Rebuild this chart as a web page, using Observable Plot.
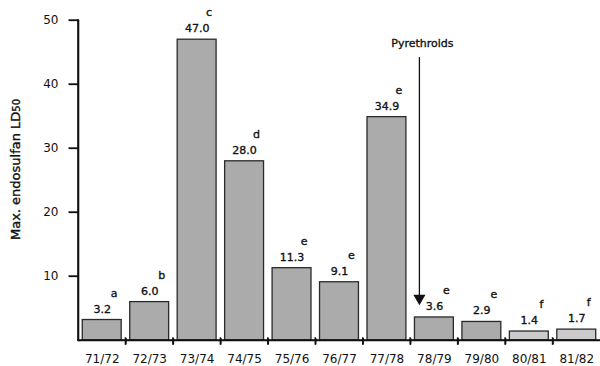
<!DOCTYPE html>
<html>
<head>
<meta charset="utf-8">
<script src="https://cdn.jsdelivr.net/npm/d3@7"></script>
<script src="https://cdn.jsdelivr.net/npm/@observablehq/plot@0.6"></script>
<style>
  html, body { margin: 0; padding: 0; background: #fff; }
  #chart svg { display: block; font-family: "DejaVu Sans", Arial, sans-serif; color: #111; }
</style>
</head>
<body>
<div id="chart"></div>
<script>
// Seasons and the maximum endosulfan LD50 recorded in each
const seasons = ["71/72", "72/73", "73/74", "74/75", "75/76", "76/77", "77/78", "78/79", "79/80", "80/81", "81/82"];
const ld50 = [3.2, 6.0, 47.0, 28.0, 11.3, 9.1, 34.9, 3.6, 2.9, 1.4, 1.7];
// Significance groups
const groups = ["a", "b", "c", "d", "e", "e", "e", "e", "e", "f", "f"];
// Seasons drawn with the lighter stipple fill
const lightSeasons = ["80/81", "81/82"];
const yTicks = [10, 20, 30, 40, 50];

// Annotation marking the introduction of pyrethroids
const pyrethroidSeason = "78/79";
const arrowTop = 44.2;
const arrowTip = 6.6;
const arrowLabelAt = 46.4;
const arrowLabel = "Pyrethroids";

const yLabel = "Max. endosulfan LD50";

const data = seasons.map((s, i) => ({season: s, value: ld50[i], group: groups[i]}));

const W = 600, H = 366;
const mL = 78, mR = 0, mT = 20, mB = 26;
const step = (W - mL - mR) / seasons.length;
const ink = "#111";
const textStroke = {stroke: ink, strokeWidth: 0.35};

const chart = Plot.plot({
  width: W,
  height: H,
  marginLeft: mL,
  marginRight: mR,
  marginTop: mT,
  marginBottom: mB,
  x: {domain: seasons, paddingInner: 0.18, paddingOuter: 0.09, round: false, label: null},
  y: {domain: [0, 50], label: null},
  marks: [
    Plot.barY(data, {
      x: "season", y: "value",
      fill: d => lightSeasons.includes(d.season) ? "#cbcbcb" : "#ababab",
      stroke: "#2a2a2a", strokeWidth: 1.3
    }),
    // value labels
    Plot.text(data, {
      x: "season", y: "value", text: d => d.value.toFixed(1),
      dy: -11, fontSize: 11, fill: ink, ...textStroke
    }),
    // group letters
    Plot.text(data, {
      x: "season", y: "value", text: "group",
      dy: -27, dx: 12, fontSize: 11, fill: ink, ...textStroke
    }),
    // tick labels
    Plot.axisY({ticks: yTicks, tickSize: 0, tickPadding: 20, fontSize: 12, label: null, fill: ink, ...textStroke}),
    Plot.axisX({tickSize: 0, tickPadding: 14, fontSize: 12, label: null, fill: ink, ...textStroke}),
    // y axis title
    Plot.text([yLabel], {frameAnchor: "left", textAnchor: "middle", dx: -63, dy: -11, rotate: -90, fontSize: 13, fill: ink, ...textStroke, className: "ytitle"}),
    // pyrethroid arrow
    Plot.ruleX([pyrethroidSeason], {y1: arrowTop, y2: arrowTip, dx: -15, stroke: ink, strokeWidth: 1.3}),
    Plot.dot([pyrethroidSeason], {x: d => d, y: arrowTip, dx: -15, symbol: "triangle", rotate: 180, r: 4.5, fill: ink}),
    Plot.text([arrowLabel], {x: () => pyrethroidSeason, y: arrowLabelAt, dx: -12, fontSize: 11, fill: ink, ...textStroke}),
    // axis lines and ticks
    Plot.ruleY([0], {stroke: ink, strokeWidth: 1.6}),
    Plot.frame({anchor: "left", stroke: ink, strokeWidth: 1.6}),
    Plot.ruleX(seasons.slice(1), {y1: 0.3, y2: -0.7, dx: -step / 2, stroke: ink, strokeWidth: 1.5}),
    Plot.axisY({ticks: yTicks, tickSize: 9, text: null, label: null, stroke: ink, strokeWidth: 1.3})
  ]
});

document.getElementById("chart").appendChild(chart);

// set the "50" of LD50 as a smaller run
d3.select(chart).selectAll("g.ytitle text").each(function () {
  const t = d3.select(this);
  const txt = t.text();
  const m = txt.match(/^(.*LD)(\d+)$/);
  if (!m) return;
  t.text(null);
  t.append("tspan").text(m[1]);
  t.append("tspan").attr("font-size", "10px").text(m[2]);
});

// axis frame drawn on top from the plot's own scales:
// left axis, baseline, y ticks and the ticks between seasons
const xs = chart.scale("x");
const ys = chart.scale("y");
const gap = (xs.step - xs.bandwidth) / 2;
const xLeft = xs.apply(seasons[0]) - gap;
const xRight = xs.apply(seasons[seasons.length - 1]) + xs.bandwidth + gap;
const yBase = ys.apply(0);
const yTop = ys.apply(50);
const axes = d3.select(chart).append("g")
  .attr("stroke", ink)
  .attr("fill", "none")
  .attr("stroke-linecap", "square");
axes.append("line")
  .attr("x1", xLeft).attr("x2", xLeft)
  .attr("y1", yTop).attr("y2", yBase)
  .attr("stroke-width", 1.6);
axes.append("line")
  .attr("x1", xLeft).attr("x2", xRight)
  .attr("y1", yBase).attr("y2", yBase)
  .attr("stroke-width", 1.6);
axes.selectAll("line.ytick").data(yTicks).join("line")
  .attr("class", "ytick")
  .attr("x1", xLeft - 9).attr("x2", xLeft)
  .attr("y1", d => ys.apply(d)).attr("y2", d => ys.apply(d))
  .attr("stroke-width", 1.3);
axes.selectAll("line.sep").data(seasons.slice(1)).join("line")
  .attr("class", "sep")
  .attr("x1", d => xs.apply(d) - gap).attr("x2", d => xs.apply(d) - gap)
  .attr("y1", yBase - 2).attr("y2", yBase + 4)
  .attr("stroke-width", 1.5);
</script>
</body>
</html>
